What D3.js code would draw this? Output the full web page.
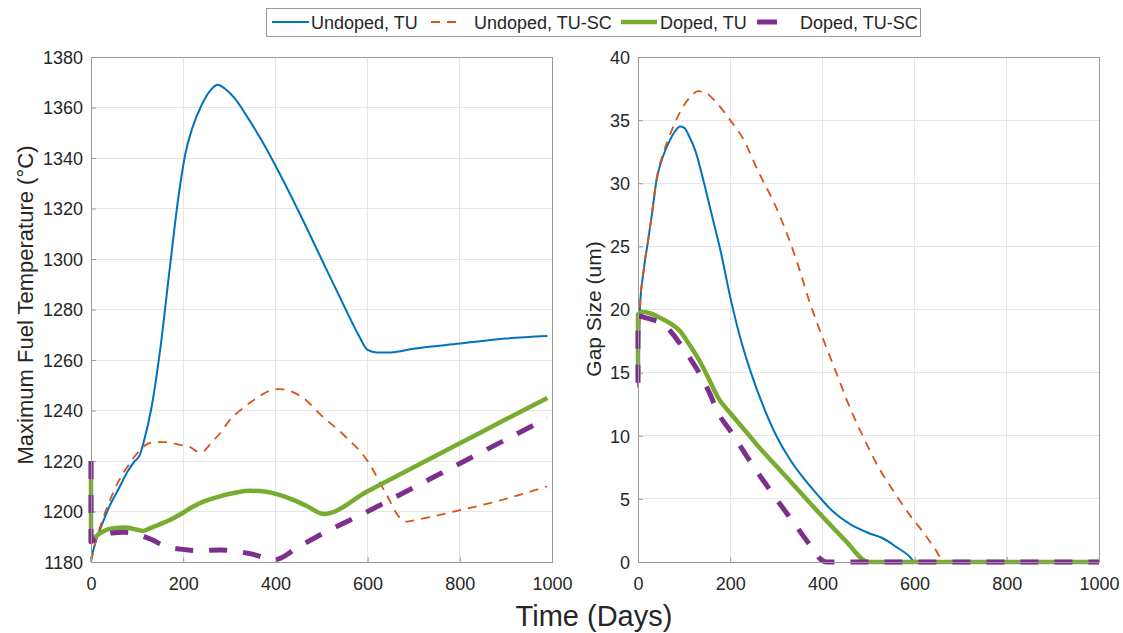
<!DOCTYPE html>
<html>
<head>
<meta charset="utf-8">
<script src="https://cdn.jsdelivr.net/npm/d3@7"></script>
<style>
  html, body { margin: 0; padding: 0; background: #fff; }
  svg { display: block; }
  text { font-family: "Liberation Sans", Arial, Helvetica, sans-serif; fill: #262626; }
</style>
</head>
<body>
<svg id="chart" width="1123" height="633"></svg>
<script>
// ---------------- DATA ----------------
const seriesNames = ["Undoped, TU", "Undoped, TU-SC", "Doped, TU", "Doped, TU-SC"];
const xTicks = [0, 200, 400, 600, 800, 1000];
const tempTicks = [1180, 1200, 1220, 1240, 1260, 1280, 1300, 1320, 1340, 1360, 1380];
const gapTicks = [0, 5, 10, 15, 20, 25, 30, 35, 40];

// Left panel: maximum fuel temperature (°C) vs time (days)
const tempUndopedTU = [[0,1181],[10,1188],[20,1193],[40,1202],[60,1209],[80,1216],[95,1220],[105,1222],[115,1228],[130,1240],[150,1264],[170,1295],[190,1325],[205,1342],[220,1352],[240,1361],[260,1367],[275,1369],[290,1367.5],[310,1364],[340,1356],[370,1347],[400,1337],[450,1319],[500,1300],[550,1281],[580,1270],[600,1264],[620,1263],[650,1263],[700,1264.5],[800,1266.5],[900,1268.5],[990,1269.5]];
const tempUndopedTUSC = [[0,1180],[10,1188],[20,1194],[40,1204],[60,1212],[80,1218],[100,1223],[120,1226.5],[140,1227.5],[160,1227.5],[190,1226.5],[215,1225.5],[235,1223.5],[245,1224],[260,1227],[280,1231],[300,1236],[330,1241],[360,1245],[390,1248],[410,1248.5],[430,1247.8],[460,1245],[500,1238],[550,1230],[600,1220],[640,1207],[670,1197.5],[685,1196],[700,1196.5],[800,1200.5],[900,1205],[990,1210]];
const tempDopedTU = [[0,1220],[0,1188],[10,1190],[25,1192],[45,1193.3],[75,1193.7],[95,1193],[113,1192.3],[130,1193.5],[150,1195],[171,1196.6],[195,1199],[215,1201.3],[245,1204],[280,1206],[315,1207.5],[345,1208.2],[380,1207.8],[410,1206.5],[440,1204.5],[470,1202],[505,1199],[600,1208],[700,1217.5],[800,1227],[900,1236.5],[990,1245]];
const tempDopedTUSC = [[0,1220],[0,1188],[20,1190],[45,1191.5],[70,1191.8],[100,1191],[130,1189],[164,1186],[200,1185],[229,1184.5],[280,1184.8],[323,1184],[352,1183],[380,1181.5],[400,1181],[450,1186],[500,1191],[600,1200],[700,1209.5],[800,1219],[900,1228.5],[990,1237]];

// Right panel: gap size (um) vs time (days)
const gapUndopedTU = [[0,14],[2,17],[4.3,20.2],[11.6,22.9],[22,25.5],[30,27.5],[40,30.2],[55,32.2],[69,33.4],[80,34.1],[91,34.5],[100,34.4],[110,33.8],[125,32.5],[140,30.5],[160,27.5],[180,24.5],[200,21],[220,18],[245,15],[270,12.5],[300,10],[330,8.1],[360,6.6],[390,5.3],[420,4.1],[460,3.0],[500,2.3],[530,1.9],[560,1.2],[590,0.4],[600,0],[1000,0]];
const gapUndopedTUSC = [[0,13.8],[2,17],[4.3,20.2],[11.6,22.9],[22,25.5],[30,27.5],[40,30.3],[55,32.4],[69,33.8],[84,35.1],[100,36.2],[115,36.9],[130,37.3],[150,37.1],[170,36.4],[200,35],[230,33.4],[260,31],[297,28.3],[320,26.3],[350,23.2],[373,20.5],[395,18.3],[430,15],[460,12.2],[490,9.8],[525,7.3],[560,5.3],[590,3.7],[620,2.3],[645,1.0],[665,0],[1000,0]];
const gapDopedTU = [[0,14.5],[0,19.6],[10,19.8],[26,19.7],[50,19.3],[70,18.9],[91,18.3],[110,17.3],[134,15.9],[155,14.4],[174,13],[200,11.8],[228,10.6],[260,9.2],[300,7.6],[350,5.6],[400,3.6],[450,1.7],[500,0],[1000,0]];
const gapDopedTUSC = [[0,14.2],[0,19.5],[12,19.4],[30,19.2],[48,19.0],[70,18.3],[91,17.3],[110,16.3],[134,14.9],[155,13.4],[174,11.8],[200,10.4],[250,7.6],[300,5.0],[350,2.5],[380,1.0],[400,0.1],[410,0],[1000,0]];

// ---------------- STYLE ----------------
const styles = [
  { color: "#0072BD", width: 2,   dash: null },
  { color: "#D95319", width: 1.8, dash: "9,7" },
  { color: "#77AC30", width: 4.5, dash: null },
  { color: "#7E2F8E", width: 5,   dash: "18,16" }
];

const svg = d3.select("#chart");
svg.append("rect").attr("width", 1123).attr("height", 633).attr("fill", "#fff");

function panel(opts) {
  const { x0, x1, y0, y1, yDomain, yTicks, series, yLabel, yLabelX, yLabelY, yLabelSize } = opts;
  const x = d3.scaleLinear().domain([0, 1000]).range([x0, x1]);
  const y = d3.scaleLinear().domain(yDomain).range([y1, y0]);
  const g = svg.append("g");

  // grid
  g.append("g").selectAll("line").data(xTicks.slice(1, -1)).join("line")
    .attr("x1", d => x(d)).attr("x2", d => x(d)).attr("y1", y0).attr("y2", y1)
    .attr("stroke", "#e6e6e6").attr("stroke-width", 1).attr("shape-rendering", "crispEdges");
  g.append("g").selectAll("line").data(yTicks.slice(1, -1)).join("line")
    .attr("y1", d => y(d)).attr("y2", d => y(d)).attr("x1", x0).attr("x2", x1)
    .attr("stroke", "#e6e6e6").attr("stroke-width", 1).attr("shape-rendering", "crispEdges");

  // axes with d3
  const fmt = d3.format("d");
  const xAxis = d3.axisBottom(x).tickValues(xTicks).tickFormat(fmt).tickSizeInner(-5).tickSizeOuter(0).tickPadding(13);
  const yAxis = d3.axisLeft(y).tickValues(yTicks).tickFormat(fmt).tickSizeInner(-5).tickSizeOuter(0).tickPadding(13);
  const gx = g.append("g").attr("transform", `translate(0,${y1})`).call(xAxis);
  const gy = g.append("g").attr("transform", `translate(${x0},0)`).call(yAxis);
  [gx, gy].forEach(a => {
    a.select(".domain").remove();
    a.selectAll(".tick line").attr("stroke", "#999").attr("stroke-width", 1);
    a.selectAll(".tick text").attr("font-size", 18).attr("fill", "#262626")
      .attr("font-family", "Liberation Sans, Arial, sans-serif");
  });
  gx.selectAll(".tick text").attr("dy", "0.85em");
  gy.selectAll(".tick text").attr("x", -8).attr("dy", "0.35em");

  // data lines
  const lineGen = d3.line().x(d => x(d[0])).y(d => y(d[1])).curve(d3.curveMonotoneX);
  const clipId = "clip" + Math.round(x0);
  svg.append("clipPath").attr("id", clipId).append("rect")
    .attr("x", x0 - 4).attr("y", y0).attr("width", x1 - x0 + 4).attr("height", y1 - y0 + 4);
  const lg = g.append("g").attr("clip-path", `url(#${clipId})`);
  series.forEach((data, i) => {
    let path;
    if (data.length > 1 && data[0][0] === data[1][0]) {
      path = `M${x(data[0][0])},${y(data[0][1])}` + lineGen(data.slice(1)).replace(/^M/, "L");
    } else {
      path = lineGen(data);
    }
    const s = styles[i];
    lg.append("path").attr("d", path).attr("fill", "none")
      .attr("stroke", s.color).attr("stroke-width", s.width)
      .attr("stroke-dasharray", s.dash).attr("stroke-linejoin", "round");
  });

  // box
  g.append("rect").attr("x", x0).attr("y", y0).attr("width", x1 - x0).attr("height", y1 - y0)
    .attr("fill", "none").attr("stroke", "#999").attr("stroke-width", 1).attr("shape-rendering", "crispEdges");

  // y label
  g.append("text").attr("transform", `translate(${yLabelX},${yLabelY}) rotate(-90)`)
    .attr("text-anchor", "middle").attr("font-size", yLabelSize).text(yLabel);
}

panel({ x0: 91, x1: 552, y0: 57, y1: 562, yDomain: [1180, 1380], yTicks: tempTicks,
  series: [tempUndopedTU, tempUndopedTUSC, tempDopedTU, tempDopedTUSC],
  yLabel: "Maximum Fuel Temperature (°C)", yLabelX: 33, yLabelY: 305, yLabelSize: 22 });
panel({ x0: 638, x1: 1099, y0: 57, y1: 562, yDomain: [0, 40], yTicks: gapTicks,
  series: [gapUndopedTU, gapUndopedTUSC, gapDopedTU, gapDopedTUSC],
  yLabel: "Gap Size (um)", yLabelX: 601, yLabelY: 309, yLabelSize: 21 });

// x label
svg.append("text").attr("x", 594).attr("y", 626).attr("text-anchor", "middle")
  .attr("font-size", 29).text("Time (Days)");

// legend
const lgd = svg.append("g");
lgd.append("rect").attr("x", 266).attr("y", 8).attr("width", 654).attr("height", 28)
  .attr("fill", "#fff").attr("stroke", "#999").attr("stroke-width", 1).attr("shape-rendering", "crispEdges");
const legendItems = [
  { sx: 272, ex: 309, tx: 311 },
  { sx: 431, ex: 457, tx: 474 },
  { sx: 621, ex: 657, tx: 660 },
  { sx: 757, ex: 777, tx: 800 }
];
seriesNames.forEach((name, i) => {
  const it = legendItems[i], s = styles[i];
  lgd.append("line").attr("x1", it.sx).attr("x2", it.ex).attr("y1", 22).attr("y2", 22)
    .attr("stroke", s.color).attr("stroke-width", s.width)
    .attr("stroke-dasharray", i === 3 ? "20,20" : s.dash);
  lgd.append("text").attr("x", it.tx).attr("y", 28.5).attr("font-size", 18).text(name);
});
</script>
</body>
</html>
